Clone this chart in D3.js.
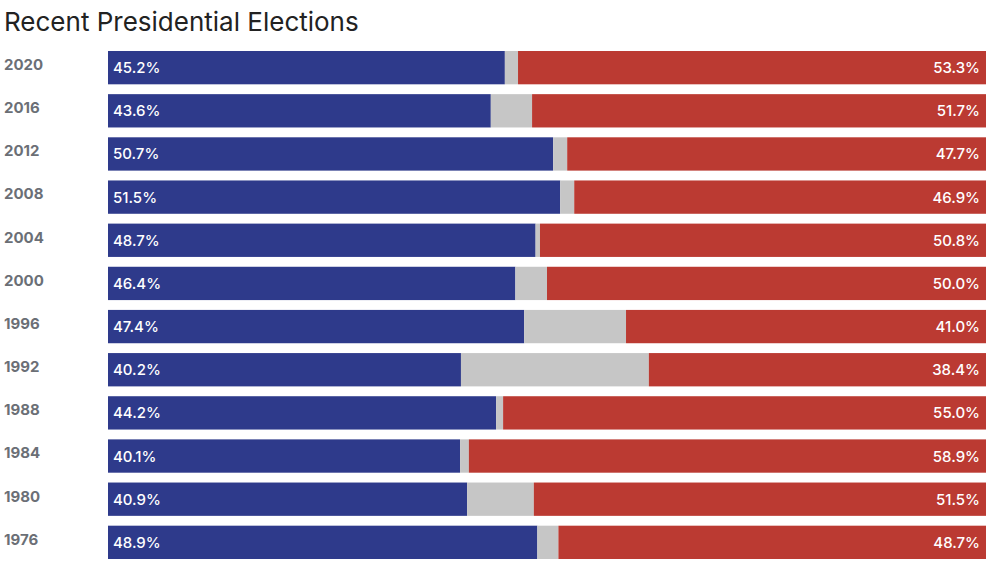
<!DOCTYPE html>
<html><head><meta charset="utf-8">
<script src="https://cdn.jsdelivr.net/npm/d3@7"></script>
<style>body{margin:0;background:#fff;} svg{display:block;}</style>
</head><body>
<svg id="chart" width="1000" height="577"></svg>
<script>
const years = ["2020","2016","2012","2008","2004","2000","1996","1992","1988","1984","1980","1976"];
const demValues = [45.2,43.6,50.7,51.5,48.7,46.4,47.4,40.2,44.2,40.1,40.9,48.9];
const repValues = [53.3,51.7,47.7,46.9,50.8,50.0,41.0,38.4,55.0,58.9,51.5,48.7];
const titleText = "Recent Presidential Elections";

const svg = d3.select("#chart");
const font = "Inter, 'Noto Sans', sans-serif";
const x = d3.scaleLinear().domain([0,100]).range([108,986]);
const y = d3.scaleBand().domain(years).range([51,559]).paddingInner(0.228).paddingOuter(0);

svg.append("text").attr("x",4).attr("y",31).attr("font-family",font).attr("font-size",26)
  .attr("fill","#222").text(titleText);

const rows = years.map((yr,i)=>({yr, dem:demValues[i], rep:repValues[i]}));
const g = svg.selectAll("g.row").data(rows).join("g").attr("class","row");

g.append("rect").attr("x",x(0)).attr("y",d=>y(d.yr)).attr("width",d=>x(d.dem)-x(0))
  .attr("height",y.bandwidth()).attr("fill","#2e3a8b");
g.append("rect").attr("x",d=>x(d.dem)).attr("y",d=>y(d.yr)).attr("width",d=>x(100-d.rep)-x(d.dem))
  .attr("height",y.bandwidth()).attr("fill","#c6c6c6");
g.append("rect").attr("x",d=>x(100-d.rep)).attr("y",d=>y(d.yr)).attr("width",d=>x(100)-x(100-d.rep))
  .attr("height",y.bandwidth()).attr("fill","#bb3a32");

g.append("text").attr("x",4).attr("y",d=>y(d.yr)+19).attr("font-family",font)
  .attr("font-size",15).attr("font-weight",700).attr("fill","#6b6f76").text(d=>d.yr);

g.append("text").attr("x",x(0)+5).attr("y",d=>y(d.yr)+y.bandwidth()/2+5.5).attr("font-family",font)
  .attr("font-size",15).attr("font-weight",500).attr("fill","#fff").text(d=>d.dem.toFixed(1)+"%");
g.append("text").attr("x",x(100)-6).attr("y",d=>y(d.yr)+y.bandwidth()/2+5.5).attr("text-anchor","end")
  .attr("font-family",font).attr("font-size",15).attr("font-weight",500).attr("fill","#fff").text(d=>d.rep.toFixed(1)+"%");
</script>
</body></html>
